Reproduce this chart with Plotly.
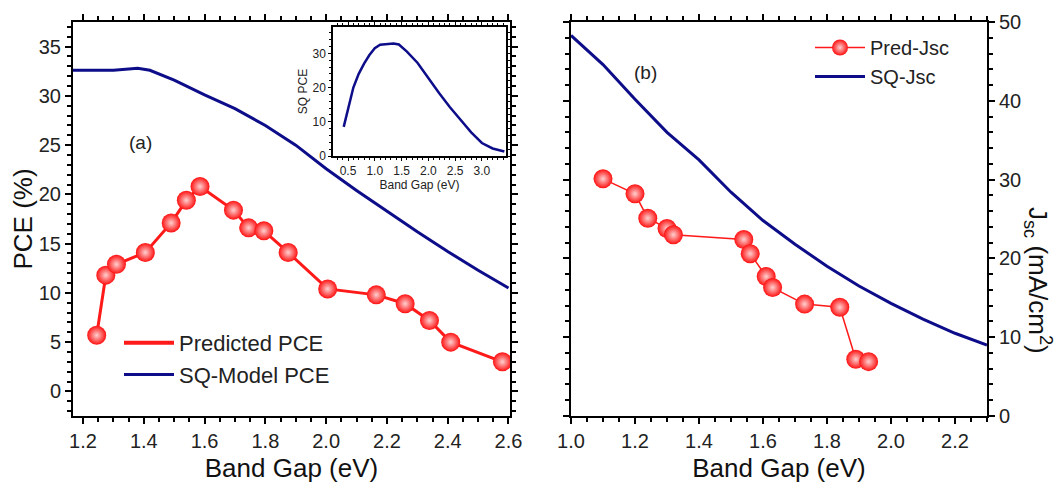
import plotly.graph_objects as go

pred_pce_x = [1.245,1.275,1.31,1.405,1.49,1.54,1.585,1.695,1.745,1.795,1.875,2.005,2.165,2.26,2.34,2.41,2.58]
pred_pce_y = [5.7,11.8,12.9,14.1,17.1,19.4,20.8,18.4,16.6,16.3,14.1,10.4,9.8,8.9,7.2,5.0,3.0]
sq_pce_x = [1.167,1.3,1.38,1.42,1.5,1.6,1.7,1.8,1.9,2.0,2.1,2.2,2.3,2.4,2.5,2.6]
sq_pce_y = [32.6,32.6,32.8,32.6,31.6,30.1,28.7,27.0,25.0,22.6,20.4,18.3,16.2,14.2,12.3,10.5]
inset_x = [0.42,0.5,0.6,0.7,0.8,0.9,1.0,1.1,1.2,1.35,1.45,1.6,1.8,2.0,2.2,2.4,2.6,2.8,3.0,3.2,3.42]
inset_y = [8.5,14,20,24,27,29.5,31.5,32.5,32.7,32.9,32.6,30.5,27.2,22.7,18.4,14.3,10.5,6.9,3.8,2.2,1.3]
pred_jsc_x = [1.1,1.2,1.24,1.3,1.32,1.54,1.56,1.61,1.63,1.73,1.84,1.89,1.93]
pred_jsc_y = [30.1,28.2,25.1,23.8,23.0,22.4,20.6,17.7,16.3,14.2,13.8,7.2,6.9]
sq_jsc_x = [1.0,1.1,1.2,1.3,1.4,1.5,1.6,1.7,1.8,1.9,2.0,2.1,2.2,2.3]
sq_jsc_y = [48.3,44.6,40.2,36.0,32.5,28.4,24.8,21.8,19.0,16.5,14.3,12.3,10.5,9.0]

RED = "#ff1a1a"; BLUE = "#0d0d8a"
FONT = "Liberation Sans"
W, H = 1054, 478
def px(a): return a / W
def py(b): return 1 - b / H

ball = dict(size=19, color="#ff1010", gradient=dict(type="radial", color="#ffd0d0"),
            line=dict(width=0))

fig = go.Figure()
fig.add_trace(go.Scatter(x=pred_pce_x, y=pred_pce_y, mode="lines+markers", line=dict(color=RED, width=3),
                         marker=ball, showlegend=False, xaxis="x", yaxis="y"))
fig.add_trace(go.Scatter(x=[None], y=[None], mode="lines", line=dict(color=RED, width=4),
                         name="Predicted PCE", legend="legend", xaxis="x", yaxis="y"))
fig.add_trace(go.Scatter(x=sq_pce_x, y=sq_pce_y, mode="lines", line=dict(color=BLUE, width=3),
                         name="SQ-Model PCE", legend="legend", xaxis="x", yaxis="y"))
fig.add_trace(go.Scatter(x=inset_x, y=inset_y, mode="lines", line=dict(color=BLUE, width=2.5),
                         showlegend=False, xaxis="x3", yaxis="y3"))
fig.add_trace(go.Scatter(x=pred_jsc_x, y=pred_jsc_y, mode="lines+markers", line=dict(color=RED, width=1.5),
                         marker=ball, name="Pred-Jsc", legend="legend2", xaxis="x2", yaxis="y2"))
fig.add_trace(go.Scatter(x=sq_jsc_x, y=sq_jsc_y, mode="lines", line=dict(color=BLUE, width=3),
                         name="SQ-Jsc", legend="legend2", xaxis="x2", yaxis="y2"))

ax = dict(showline=True, linecolor="black", linewidth=2, mirror="ticks", ticks="outside",
          ticklen=6, tickwidth=2, tickcolor="black", showgrid=False, zeroline=False, automargin=False,
          tickfont=dict(family=FONT, size=20, color="#222"),
          minor=dict(ticks="outside", ticklen=4, tickwidth=1.5, tickcolor="black"))
small = dict(ax, tickfont=dict(family=FONT, size=12, color="#222"), ticklen=3, tickwidth=1,
             minor=dict(ticks="outside", ticklen=2, tickwidth=1, tickcolor="black"), linewidth=1.5)
tf = dict(family=FONT, size=26, color="#111")
sf = dict(family=FONT, size=12, color="#222")

fig.update_layout(
    width=W, height=H, margin=dict(l=0, r=0, t=0, b=0, autoexpand=False),
    plot_bgcolor="white", paper_bgcolor="white",
    xaxis=dict(ax, domain=[px(65), px(502)], range=[1.167, 2.605], dtick=0.2, tick0=1.2, tickformat=".1f",
               title=dict(text="Band Gap (eV)", font=tf, standoff=8), anchor="y"),
    yaxis=dict(ax, domain=[py(408), py(14)], range=[-2.5, 37.5], dtick=5, anchor="x",
               title=dict(text="PCE (%)", font=tf, standoff=6)),
    xaxis2=dict(ax, domain=[px(563), px(979)], range=[1.0, 2.3], dtick=0.2, tick0=1.0, tickformat=".1f",
                title=dict(text="Band Gap (eV)", font=tf, standoff=8), anchor="y2"),
    yaxis2=dict(ax, domain=[py(408), py(14)], range=[0, 50], dtick=10, anchor="x2", side="right"),
    xaxis3=dict(small, domain=[px(325), px(498)], range=[0.22, 3.45], dtick=0.5, tick0=0.5, tickformat=".1f",
                title=dict(text="Band Gap (eV)", font=sf, standoff=2), anchor="y3"),
    yaxis3=dict(small, domain=[py(148), py(19)], range=[0, 37.7], dtick=10, anchor="x3",
                title=dict(text="SQ PCE", font=sf, standoff=2)),
    legend=dict(x=px(111), y=py(314), xanchor="left", yanchor="top", bgcolor="rgba(0,0,0,0)",
                font=dict(family=FONT, size=22, color="#222"), itemwidth=50, tracegroupgap=0),
    legend2=dict(x=px(802), y=py(20), xanchor="left", yanchor="top", bgcolor="rgba(0,0,0,0)",
                 font=dict(family=FONT, size=20, color="#222"), itemwidth=50),
    annotations=[
        dict(text="(a)", x=px(119), y=py(122), xref="paper", yref="paper", showarrow=False,
             font=dict(family=FONT, size=19, color="#222")),
        dict(text="(b)", x=px(637), y=py(52), xref="paper", yref="paper", showarrow=False,
             font=dict(family=FONT, size=19, color="#222")),
        dict(text="J<sub>sc</sub> (mA/cm<sup>2</sup>)", x=px(1050), y=py(272), xref="paper", yref="paper",
             xanchor="right", showarrow=False, textangle=90, font=tf),
    ],
)
fig.write_html("out.html")
